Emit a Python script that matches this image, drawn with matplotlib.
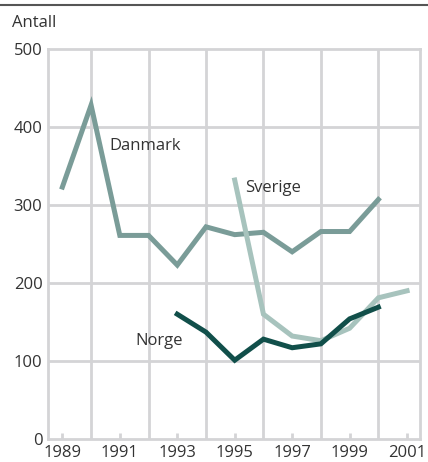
import matplotlib
matplotlib.use("Agg")
import matplotlib.pyplot as plt

years_dk = [1989, 1990, 1991, 1992, 1993, 1994, 1995, 1996, 1997, 1998, 1999, 2000]
danmark = [323, 428, 261, 261, 223, 272, 262, 265, 240, 266, 266, 307]
years_se = [1995, 1996, 1997, 1998, 1999, 2000, 2001]
sverige = [332, 160, 132, 126, 142, 181, 190]
years_no = [1993, 1994, 1995, 1996, 1997, 1998, 1999, 2000]
norge = [160, 137, 101, 128, 117, 122, 154, 169]
xticks = [1989, 1991, 1993, 1995, 1997, 1999, 2001]
yticks = [0, 100, 200, 300, 400, 500]

plt.rcParams['font.family'] = ['Open Sans', 'DejaVu Sans']
fig = plt.figure(figsize=(4.28, 4.62), dpi=100)
ax = fig.add_axes([48/428, 1-439/462, (420-48)/428, (439-49)/462])

gc = '#d4d4d6'
for yr in [1990, 1992, 1994, 1996, 1998, 2000]:
    ax.axvline(yr, color=gc, lw=2, zorder=1)
for v in [100, 200, 300, 400]:
    ax.axhline(v, color=gc, lw=2, zorder=1)
for s in ax.spines.values():
    s.set_color(gc)
    s.set_linewidth(2)

ax.plot(years_dk, danmark, color='#7a9c98', lw=3.6, zorder=3, solid_joinstyle='miter')
ax.plot(years_se, sverige, color='#a7c3bd', lw=3.6, zorder=4, solid_joinstyle='miter')
ax.plot(years_no, norge, color='#114f4a', lw=3.6, zorder=5, solid_joinstyle='miter')

tc = '#333333'
ax.text(1990.65, 375, 'Danmark', fontsize=12, color=tc, va='center', ha='left')
ax.text(1995.35, 322, 'Sverige', fontsize=12, color=tc, va='center', ha='left')
ax.text(1991.55, 126, 'Norge', fontsize=12, color=tc, va='center', ha='left')

ax.set_xlim(1988.5, 2001.45)
ax.set_ylim(0, 500)
ax.set_xticks(xticks)
ax.set_xticklabels([str(t) for t in xticks])
ax.set_yticks(yticks)
ax.tick_params(axis='x', direction='in', length=4, width=2, color=gc, labelsize=12, labelcolor=tc, pad=4)
ax.tick_params(axis='y', length=0, labelsize=12, labelcolor=tc, pad=4)

fig.text(12/428, 1-23/462, 'Antall', fontsize=12, color=tc, va='center', ha='left')
fig.add_artist(plt.Line2D([0, 1], [1-5/462, 1-5/462], color='#555555', lw=1.5))

fig.savefig('out.png', dpi=100)
